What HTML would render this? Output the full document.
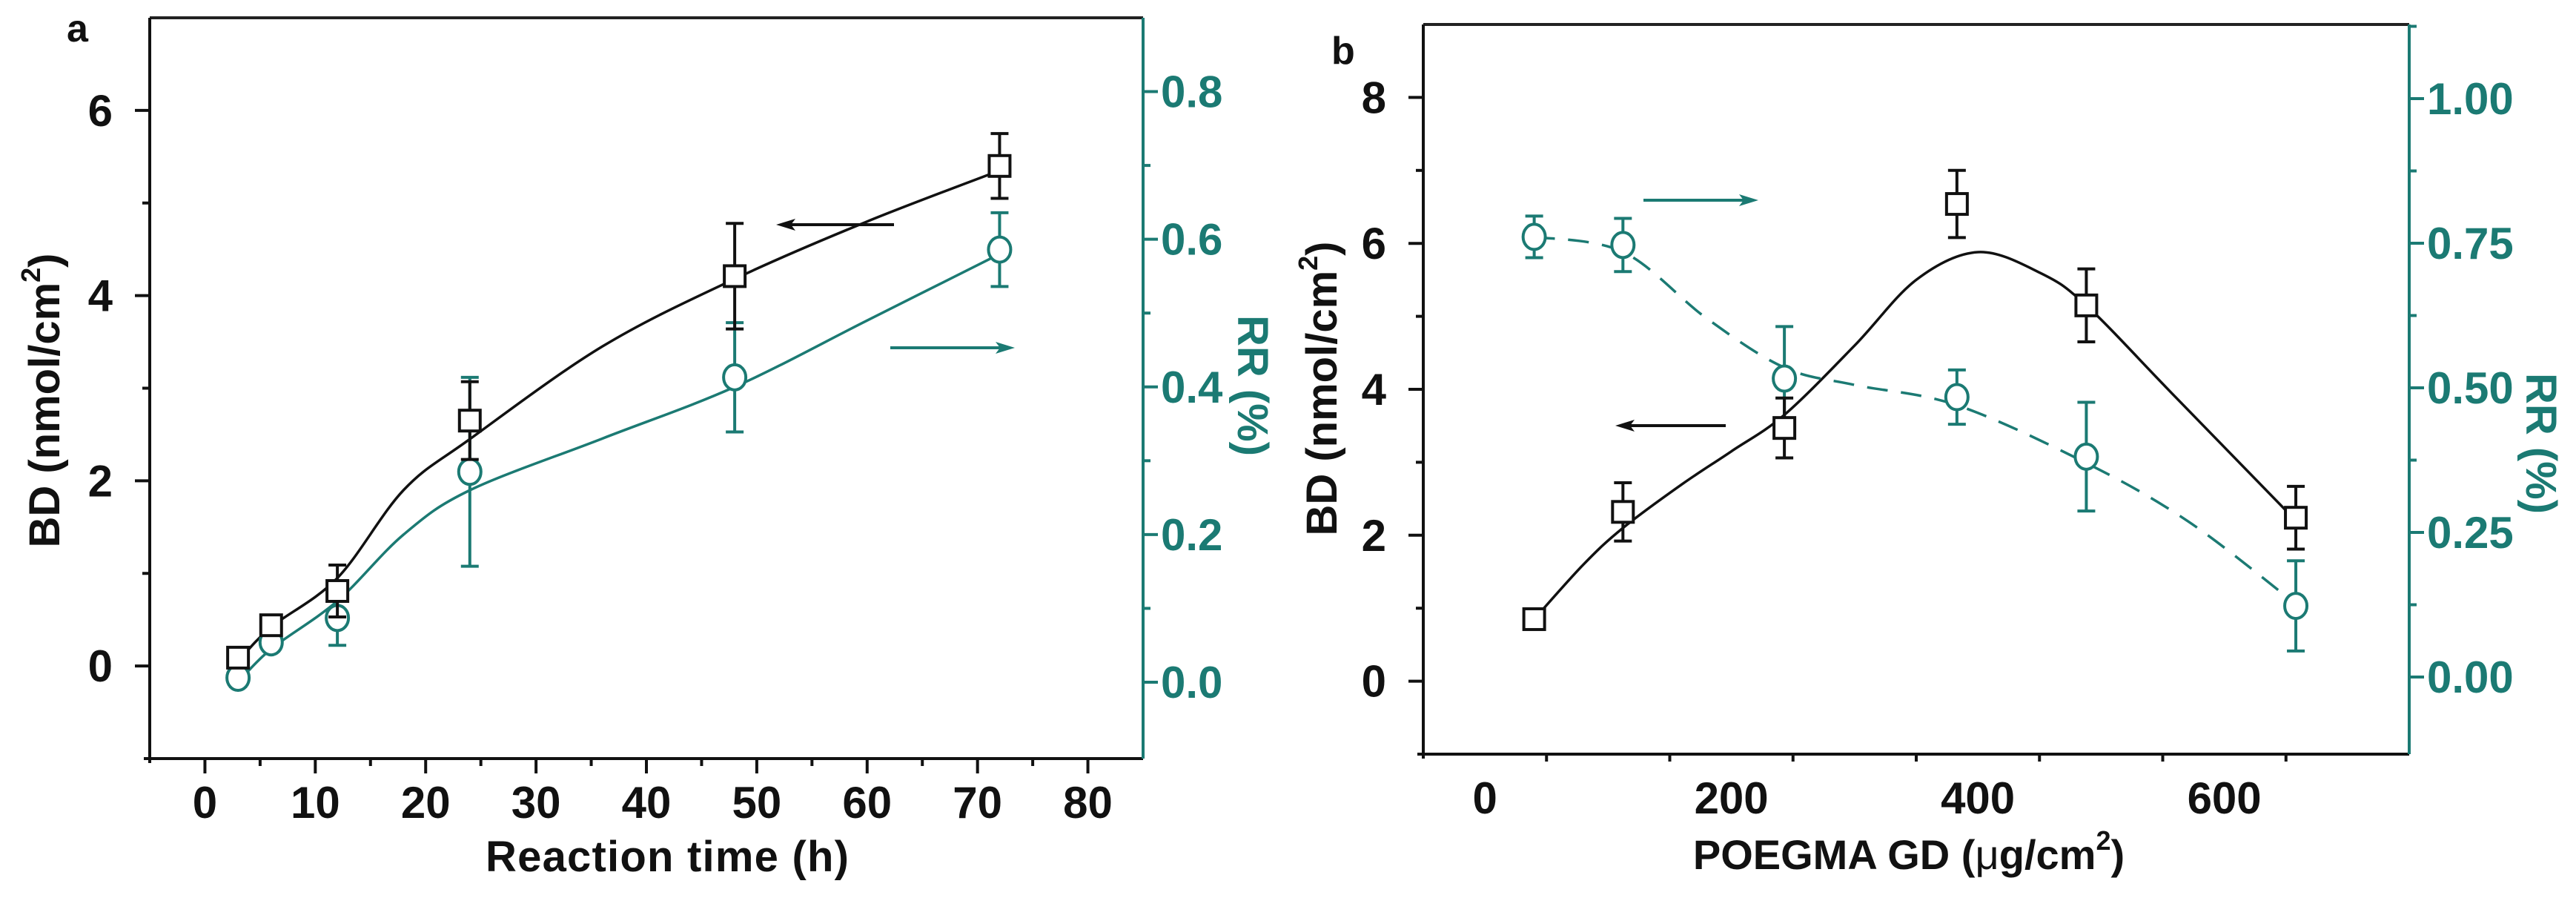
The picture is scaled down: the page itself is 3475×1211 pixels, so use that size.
<!DOCTYPE html>
<html><head><meta charset="utf-8"><style>
html,body{margin:0;padding:0;background:#fff}
svg{display:block}
text{font-family:"Liberation Sans",sans-serif;font-weight:bold}
</style></head><body>
<svg id="fig" width="3475" height="1211" viewBox="0 0 3475 1211" xmlns="http://www.w3.org/2000/svg"></svg>
<script>
// Panel a data
const aTime = [3, 6, 12, 24, 48, 72];
const aBD = [0.09, 0.44, 0.81, 2.65, 4.21, 5.40];
const aBDerr = [0.06, 0.06, 0.28, 0.42, 0.57, 0.35];
const aRR = [0.006, 0.054, 0.087, 0.285, 0.413, 0.586];
const aRRerr = [0.012, 0.012, 0.037, 0.128, 0.074, 0.050];
const aFitX = [3, 6, 12, 18, 24, 36, 48, 60, 72];
const aFitBD = [0.05, 0.42, 0.95, 1.9, 2.45, 3.45, 4.18, 4.8, 5.35];
const aFitRR = [0.0, 0.045, 0.11, 0.2, 0.26, 0.33, 0.40, 0.49, 0.58];
const aXTicks = [0, 10, 20, 30, 40, 50, 60, 70, 80];
const aYTicks = [0, 2, 4, 6];
const aRTicks = ["0.0", "0.2", "0.4", "0.6", "0.8"];
// Panel b data
const bGD = [40, 112, 243, 383, 488, 658];
const bBD = [0.85, 2.32, 3.47, 6.54, 5.15, 2.24];
const bBDerr = [0.06, 0.40, 0.41, 0.46, 0.50, 0.43];
const bRR = [0.761, 0.747, 0.516, 0.484, 0.381, 0.123];
const bRRerr = [0.036, 0.046, 0.09, 0.047, 0.094, 0.078];
const bFitX = [40, 80, 112, 160, 200, 243, 300, 350, 400, 450, 488, 560, 658];
const bFitBD = [0.85, 1.6, 2.1, 2.7, 3.15, 3.65, 4.6, 5.5, 5.88, 5.6, 5.15, 3.9, 2.2];
const bFitRRx = [40, 112, 180, 243, 300, 383, 488, 570, 650];
const bFitRR = [0.761, 0.735, 0.62, 0.535, 0.505, 0.47, 0.37, 0.27, 0.14];
const bXTicks = [0, 200, 400, 600];
const bYTicks = [0, 2, 4, 6, 8];
const bRTicks = ["0.00", "0.25", "0.50", "0.75", "1.00"];

const NS = "http://www.w3.org/2000/svg";
const svg = document.getElementById("fig");
const TEAL = "#1b7a73";
function el(tag, attrs, parent, text) {
  const e = document.createElementNS(NS, tag);
  for (const k in attrs) e.setAttribute(k, attrs[k]);
  if (text !== undefined) e.textContent = text;
  (parent || svg).appendChild(e);
  return e;
}
function lin(d0, d1, r0, r1) { return v => r0 + (v - d0) * (r1 - r0) / (d1 - d0); }
function spline(xs, ys) {
  let d = "M" + xs[0] + "," + ys[0];
  for (let i = 0; i < xs.length - 1; i++) {
    const x0 = xs[Math.max(0, i - 1)], y0 = ys[Math.max(0, i - 1)];
    const x1 = xs[i], y1 = ys[i], x2 = xs[i + 1], y2 = ys[i + 1];
    const x3 = xs[Math.min(xs.length - 1, i + 2)], y3 = ys[Math.min(xs.length - 1, i + 2)];
    d += " C" + (x1 + (x2 - x0) / 6) + "," + (y1 + (y2 - y0) / 6) + " " + (x2 - (x3 - x1) / 6) + "," + (y2 - (y3 - y1) / 6) + " " + x2 + "," + y2;
  }
  return d;
}

function panel(P) {
  const g = el("g", {});
  
  
  const X = lin(P.xmin, P.xmax, P.L, P.R);
  const Y = lin(P.ymin, P.ymax, P.B, P.T);
  const Y2 = lin(P.rmin, P.rmax, P.B, P.T);
  const top = el("line", {x1: P.L, y1: P.T, x2: P.R, y2: P.T, stroke: "#222", "stroke-width": 4}, g);
  
  
  const lax = el("line", {x1: P.L, y1: P.T, x2: P.L, y2: P.B + 6, stroke: "#111", "stroke-width": 4}, g);
  
  
  const bax = el("line", {x1: P.L - 8, y1: P.B, x2: P.R, y2: P.B, stroke: "#111", "stroke-width": 4}, g);
  
  
  const rax = el("line", {x1: P.R, y1: P.T, x2: P.R, y2: P.B, stroke: TEAL, "stroke-width": 4}, g);
  
  
  for (let v = P.xmin + P.xminor; v < P.xmax; v += P.xminor) {
    const major = P.xticks.indexOf(v) >= 0;
    el("line", {x1: X(v), y1: P.B, x2: X(v), y2: P.B + (major ? 20 : 10), stroke: "#111", "stroke-width": 4}, g);
  }
  P.xticks.forEach(v => {
    const t = el("text", {x: X(v), y: P.B + 80, "text-anchor": "middle", "font-size": 60, fill: "#111"}, g, String(v));
    
    
  });
  for (let v = P.ymin + 1; v < P.ymax; v += 1) {
    const major = P.yticks.indexOf(v) >= 0;
    el("line", {x1: P.L, y1: Y(v), x2: P.L - (major ? 20 : 10), y2: Y(v), stroke: "#111", "stroke-width": 4}, g);
  }
  P.yticks.forEach(v => {
    const t = el("text", {x: P.L - 50, y: Y(v) + 21, "text-anchor": "end", "font-size": 60, fill: "#111"}, g, String(v));
    
    
  });
  P.rticks.forEach((s, i) => {
    const v = parseFloat(s);
    el("line", {x1: P.R, y1: Y2(v), x2: P.R + 20, y2: Y2(v), stroke: TEAL, "stroke-width": 4}, g);
    const vm = v + P.rstep / 2;
    if (vm < P.rmax) el("line", {x1: P.R, y1: Y2(vm), x2: P.R + 10, y2: Y2(vm), stroke: TEAL, "stroke-width": 4}, g);
    const t = el("text", {x: P.R + 24, y: Y2(v) + 21, "text-anchor": "start", "font-size": 60, fill: TEAL}, g, s);
    
    
  });
  const c1 = el("path", {d: spline(P.fitX.map(X), P.fitBD.map(Y)), fill: "none", stroke: "#111", "stroke-width": 3.5}, g);
  
  
  const c2 = el("path", {d: spline(P.fitRRx.map(X), P.fitRR.map(Y2)), fill: "none", stroke: TEAL, "stroke-width": 3.5, "stroke-dasharray": P.dash || "none"}, g);
  
  
  P.x.forEach((xv, i) => {
    const cx = X(xv), cy = Y2(P.rr[i]), t = Y2(P.rr[i] + P.rrErr[i]), b = Y2(P.rr[i] - P.rrErr[i]);
    const eb = el("path", {d: `M${cx},${t}V${b}M${cx-12},${t}H${cx+12}M${cx-12},${b}H${cx+12}`, stroke: TEAL, "stroke-width": 4, fill: "none"}, g);
    
    
    const c = el("ellipse", {cx: cx, cy: cy, rx: 15, ry: 17, fill: "#fff", stroke: TEAL, "stroke-width": 4}, g);
    
    
  });
  P.x.forEach((xv, i) => {
    const cx = X(xv), cy = Y(P.bd[i]), t = Y(P.bd[i] + P.bdErr[i]), b = Y(P.bd[i] - P.bdErr[i]);
    const eb = el("path", {d: `M${cx},${t}V${b}M${cx-12},${t}H${cx+12}M${cx-12},${b}H${cx+12}`, stroke: "#111", "stroke-width": 4, fill: "none"}, g);
    
    
    const s = el("rect", {x: cx - 14, y: cy - 14, width: 28, height: 28, fill: "#fff", stroke: "#111", "stroke-width": 4}, g);
    
    
  });
  P.arrows.forEach(a => {
    const dir = Math.sign(a[2] - a[0]);
    const ar = el("path", {d: `M${a[0]},${a[1]}H${a[2] - dir * 18}`, stroke: a[3], "stroke-width": 4, fill: "none"}, g);
    
    
    el("path", {d: `M${a[2]},${a[1]}L${a[2] - dir * 26},${a[1] - 8}L${a[2] - dir * 20},${a[1]}L${a[2] - dir * 26},${a[1] + 8}Z`, fill: a[3]}, g);
  });
  return g;
}

const ga = panel({name: "panel-a", L: 202, R: 1542, T: 24, B: 1023, xmin: -5, xmax: 85, xminor: 5, ymin: -1, ymax: 7, rmin: -0.1035, rmax: 0.9, rstep: 0.2,
  xticks: aXTicks, yticks: aYTicks, rticks: aRTicks, x: aTime, bd: aBD, bdErr: aBDerr, rr: aRR, rrErr: aRRerr,
  fitX: aFitX, fitBD: aFitBD, fitRRx: aFitX, fitRR: aFitRR,
  arrows: [[1206, 303, 1047, "#111", "bd-arrow"], [1201, 469, 1369, TEAL, "rr-arrow"]]});
const gb = panel({name: "panel-b", L: 1920, R: 3250, T: 33, B: 1017, xmin: -50, xmax: 750, xminor: 100, ymin: -1, ymax: 9, rmin: -0.1333, rmax: 1.1282, rstep: 0.25,
  xticks: bXTicks, yticks: bYTicks, rticks: bRTicks, x: bGD, bd: bBD, bdErr: bBDerr, rr: bRR, rrErr: bRRerr,
  fitX: bFitX, fitBD: bFitBD, fitRRx: bFitRRx, fitRR: bFitRR, dash: "28,18",
  arrows: [[2217, 270, 2372, TEAL, "rr-arrow"], [2328, 574, 2179, "#111", "bd-arrow"]]});

function label(txt, attrs, name) {
  const t = el("text", attrs, svg);
  t.innerHTML = txt;
  
  
}
label("a", {x: 90, y: 56, "font-size": 52, fill: "#111"}, "panel-a-label");
label("b", {x: 1796, y: 86, "font-size": 52, fill: "#111"}, "panel-b-label");
label('BD (nmol/cm<tspan font-size="36" dy="-26">2</tspan><tspan dy="26">)</tspan>', {x: 0, y: 0, "font-size": 58, fill: "#111", "text-anchor": "middle", transform: "translate(80,540) rotate(-90)"}, "panel-a-y-axis-title");
label('RR (%)', {x: 0, y: 0, "font-size": 58, fill: TEAL, "text-anchor": "middle", transform: "translate(1670,520) rotate(90)"}, "panel-a-right-axis-title");
label('Reaction time (h)', {x: 900, y: 1175, "font-size": 58, fill: "#111", "text-anchor": "middle", textLength: 490}, "panel-a-x-axis-title");
label('BD (nmol/cm<tspan font-size="36" dy="-26">2</tspan><tspan dy="26">)</tspan>', {x: 0, y: 0, "font-size": 58, fill: "#111", "text-anchor": "middle", transform: "translate(1803,524) rotate(-90)"}, "panel-b-y-axis-title");
label('RR (%)', {x: 0, y: 0, "font-size": 58, fill: TEAL, "text-anchor": "middle", transform: "translate(3408,598) rotate(90)"}, "panel-b-right-axis-title");
label('POEGMA GD (<tspan font-weight="normal">μ</tspan>g/cm<tspan font-size="36" dy="-26">2</tspan><tspan dy="26">)</tspan>', {x: 2575, y: 1172, "font-size": 56, fill: "#111", "text-anchor": "middle"}, "panel-b-x-axis-title");
</script>
</body></html>
